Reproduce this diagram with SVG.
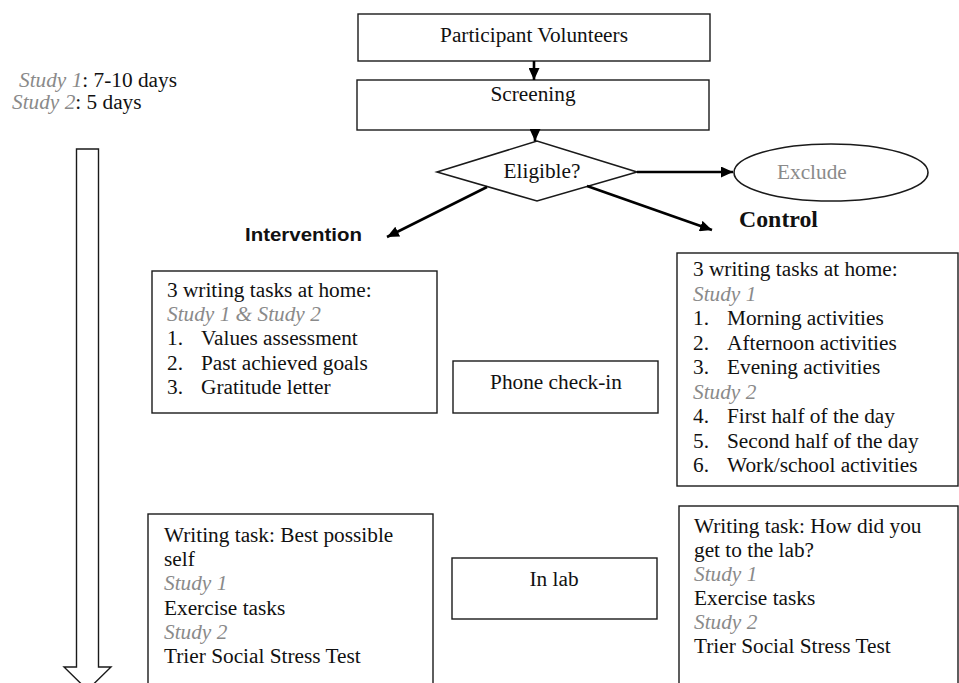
<svg xmlns="http://www.w3.org/2000/svg" width="959" height="683" viewBox="0 0 959 683">
<style>
  .box { fill: #ffffff; stroke: #1a1a1a; stroke-width: 1.4; }
  .t { font-family: "Liberation Serif", "Times New Roman", serif; font-size: 21.3px; fill: #111111; }
  .g { font-family: "Liberation Serif", "Times New Roman", serif; font-size: 21.3px; fill: #8a8a8a; font-style: italic; }
  .c { text-anchor: middle; }
  .conn { stroke: #000000; stroke-width: 2.6; fill: none; }
</style>
<defs>
  <marker id="ah" markerUnits="userSpaceOnUse" markerWidth="13" markerHeight="11" refX="12" refY="5.5" orient="auto">
    <path d="M0,0 L12,5.5 L0,11 z" fill="#000000"/>
  </marker>
</defs>
<rect width="959" height="683" fill="#ffffff"/>

<g id="duration">
  <text class="t" x="19" y="87"><tspan style="fill:#8a8a8a;font-style:italic">Study 1</tspan>: 7-10 days</text>
  <text class="t" x="12" y="109"><tspan style="fill:#8a8a8a;font-style:italic">Study 2</tspan>: 5 days</text>
</g>

<g id="timeline-arrow">
  <polygon points="76.5,149 98.5,149 98.5,667 111,667 87.5,690 64,667 76.5,667" fill="#ffffff" stroke="#1a1a1a" stroke-width="1.4"/>
</g>

<g id="participants">
  <rect class="box" x="358" y="14" width="352" height="47"/>
  <text class="t c" x="534" y="42">Participant Volunteers</text>
</g>

<g id="screening">
  <rect class="box" x="357" y="80" width="352" height="50"/>
  <text class="t c" x="533" y="101">Screening</text>
</g>

<g id="eligible">
  <polygon points="437,172 537,141 637,172 537,201" fill="#ffffff" stroke="#1a1a1a" stroke-width="1.6"/>
  <text class="t c" x="542" y="178">Eligible?</text>
</g>

<g id="exclude">
  <ellipse cx="831" cy="172.5" rx="97" ry="28.5" fill="#ffffff" stroke="#1a1a1a" stroke-width="1.6"/>
  <text class="t" x="777" y="179" style="fill:#8a8a8a">Exclude</text>
</g>

<g id="intervention-label">
  <text x="245" y="241" font-family="Liberation Sans, Arial, sans-serif" font-weight="bold" font-size="18.5" fill="#111111" textLength="117" lengthAdjust="spacingAndGlyphs">Intervention</text>
</g>

<g id="control-label">
  <text x="739" y="227" font-family="Liberation Serif, Times New Roman, serif" font-weight="bold" font-size="22.5" fill="#111111" textLength="79" lengthAdjust="spacingAndGlyphs">Control</text>
</g>

<g id="intervention-home">
  <rect class="box" x="152" y="271" width="285" height="142"/>
  <text class="t" x="167" y="297">3 writing tasks at home:</text>
  <text class="g" x="167" y="321.2">Study 1 &amp; Study 2</text>
  <text class="t" x="167" y="345.4">1.</text><text class="t" x="201" y="345.4">Values assessment</text>
  <text class="t" x="167" y="369.6">2.</text><text class="t" x="201" y="369.6">Past achieved goals</text>
  <text class="t" x="167" y="394">3.</text><text class="t" x="201" y="394">Gratitude letter</text>
</g>

<g id="phone-checkin">
  <rect class="box" x="453" y="361" width="205" height="52"/>
  <text class="t c" x="556" y="389">Phone check-in</text>
</g>

<g id="control-home">
  <rect class="box" x="677" y="253" width="281" height="233"/>
  <text class="t" x="693" y="276">3 writing tasks at home:</text>
  <text class="g" x="693" y="300.5">Study 1</text>
  <text class="t" x="693" y="325">1.</text><text class="t" x="727" y="325">Morning activities</text>
  <text class="t" x="693" y="349.5">2.</text><text class="t" x="727" y="349.5">Afternoon activities</text>
  <text class="t" x="693" y="374">3.</text><text class="t" x="727" y="374">Evening activities</text>
  <text class="g" x="693" y="398.5">Study 2</text>
  <text class="t" x="693" y="423">4.</text><text class="t" x="727" y="423">First half of the day</text>
  <text class="t" x="693" y="447.5">5.</text><text class="t" x="727" y="447.5">Second half of the day</text>
  <text class="t" x="693" y="472">6.</text><text class="t" x="727" y="472">Work/school activities</text>
</g>

<g id="intervention-lab">
  <rect class="box" x="148" y="514" width="285" height="180"/>
  <text class="t" x="164" y="542">Writing task: Best possible</text>
  <text class="t" x="164" y="566">self</text>
  <text class="g" x="164" y="590">Study 1</text>
  <text class="t" x="164" y="614.5">Exercise tasks</text>
  <text class="g" x="164" y="638.5">Study 2</text>
  <text class="t" x="164" y="663">Trier Social Stress Test</text>
</g>

<g id="in-lab">
  <rect class="box" x="452" y="558" width="205" height="61"/>
  <text class="t c" x="554" y="586">In lab</text>
</g>

<g id="control-lab">
  <rect class="box" x="679" y="506" width="279" height="190"/>
  <text class="t" x="694" y="533">Writing task: How did you</text>
  <text class="t" x="694" y="557">get to the lab?</text>
  <text class="g" x="694" y="581">Study 1</text>
  <text class="t" x="694" y="605">Exercise tasks</text>
  <text class="g" x="694" y="629">Study 2</text>
  <text class="t" x="694" y="653">Trier Social Stress Test</text>
</g>

<g id="connectors">
  <line class="conn" x1="534" y1="61" x2="534" y2="80" marker-end="url(#ah)"/>
  <line class="conn" x1="535" y1="130" x2="535" y2="141" marker-end="url(#ah)"/>
  <line class="conn" x1="637" y1="172" x2="733" y2="172" marker-end="url(#ah)"/>
  <line class="conn" x1="487" y1="187" x2="387" y2="237" marker-end="url(#ah)"/>
  <line class="conn" x1="587" y1="186" x2="712" y2="230" marker-end="url(#ah)"/>
</g>
</svg>
